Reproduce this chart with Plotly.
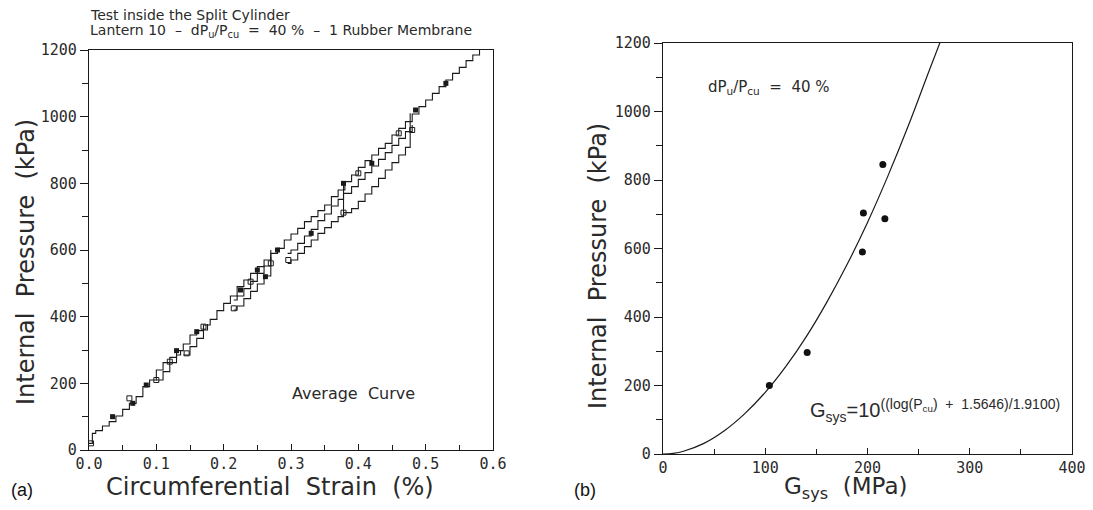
import plotly.graph_objects as go

# page has an 8px body margin; the figure is sized to fit the 1093x510 window
OFF = 8
W, H = 1093 - 2 * OFF, 510 - 2 * OFF

# ---------------- Data: panel (a) ----------------
main_strain = [0.000, 0.005, 0.010, 0.020, 0.030, 0.040, 0.050, 0.060, 0.070, 0.080, 0.090,
               0.100, 0.110, 0.120, 0.130, 0.140, 0.150, 0.160, 0.170, 0.180, 0.190,
               0.200, 0.210, 0.220, 0.230, 0.240, 0.250, 0.260, 0.270, 0.280, 0.290,
               0.300, 0.310, 0.320, 0.330, 0.340, 0.350, 0.360, 0.370, 0.380, 0.390,
               0.400, 0.410, 0.420, 0.430, 0.440, 0.450, 0.460, 0.470, 0.480, 0.490,
               0.500, 0.510, 0.520, 0.530, 0.540, 0.550, 0.560, 0.570, 0.580]
main_p = [20, 50, 58, 72, 85, 102, 122, 140, 160, 190, 210,
          240, 262, 278, 298, 318, 345, 358, 375, 392, 418,
          440, 462, 490, 510, 530, 550, 570, 590, 605, 630,
          648, 665, 685, 700, 718, 735, 760, 780, 805, 825,
          848, 868, 885, 905, 920, 945, 965, 985, 1008, 1030,
          1050, 1070, 1090, 1110, 1130, 1148, 1168, 1185, 1200]

branch_a_strain = [0.100, 0.110, 0.120, 0.130, 0.136]
branch_a_p = [210, 235, 262, 285, 300]

branch_b_strain = [0.140, 0.150, 0.160, 0.170, 0.176]
branch_b_p = [285, 310, 335, 360, 378]

branch_c_mid_strain = [0.215, 0.220, 0.230, 0.240, 0.250, 0.260, 0.270]
branch_c_mid_p = [450, 462, 484, 506, 530, 552, 578]

branch_c_low_strain = [0.215, 0.220, 0.230, 0.240, 0.250, 0.260, 0.270, 0.270]
branch_c_low_p = [420, 432, 454, 476, 498, 522, 550, 600]

branch_d_mid_strain = [0.295, 0.300, 0.310, 0.320, 0.330, 0.340, 0.350, 0.360, 0.370, 0.378,
                       0.390, 0.400, 0.410, 0.420, 0.430, 0.440, 0.450, 0.460, 0.470, 0.480]
branch_d_mid_p = [590, 600, 620, 642, 662, 688, 708, 732, 752, 770,
                  790, 812, 832, 852, 872, 892, 914, 935, 955, 975]

branch_d_low_strain = [0.295, 0.300, 0.310, 0.320, 0.330, 0.340, 0.350, 0.360, 0.370, 0.378,
                       0.390, 0.400, 0.410, 0.420, 0.430, 0.440, 0.450, 0.460, 0.470, 0.477, 0.477]
branch_d_low_p = [560, 570, 590, 610, 630, 650, 667, 685, 700, 712,
                  724, 746, 768, 790, 815, 840, 862, 885, 908, 928, 1010]

jump_strain = [0.378, 0.378]
jump_p = [700, 805]

filled_sq_strain = [0.035, 0.065, 0.085, 0.130, 0.160, 0.225, 0.250, 0.262, 0.280, 0.330, 0.378, 0.420, 0.485, 0.530]
filled_sq_p = [100, 140, 195, 298, 355, 480, 540, 520, 600, 650, 800, 860, 1020, 1100]
open_sq_strain = [0.003, 0.060, 0.100, 0.120, 0.145, 0.170, 0.215, 0.240, 0.270, 0.296, 0.378, 0.400, 0.460, 0.480]
open_sq_p = [20, 155, 210, 265, 290, 370, 425, 505, 560, 570, 712, 830, 950, 960]

# ---------------- Data: panel (b) ----------------
fit_g = [0, 10, 20, 40, 60, 80, 100, 120, 140, 160, 180, 200, 220, 240, 260, 272]
fit_p = [0, 2, 8, 31, 68, 118, 180, 255, 342, 442, 553, 676, 812, 959, 1117, 1210]

meas_g = [104, 141, 195, 196, 215, 217]
meas_p = [200, 296, 590, 704, 845, 687]

# ---------------- Layout helpers (window pixel -> paper) ----------------
def px(x):
    return (x - OFF) / W

def py(y):
    return 1 - (y - OFF) / H

LINE = "#1a1a1a"
TXT = "#2a2a2a"
TICKFONT = dict(family="DejaVu Sans Mono", size=15, color=TXT)

fig = go.Figure()

def step_trace(xs, ys):
    return go.Scatter(x=xs, y=ys, mode="lines", line=dict(color=LINE, width=1.1, shape="hv"),
                      xaxis="x", yaxis="y", hoverinfo="skip", showlegend=False)

for xs, ys in [(main_strain, main_p), (branch_a_strain, branch_a_p), (branch_b_strain, branch_b_p),
               (branch_c_mid_strain, branch_c_mid_p), (branch_c_low_strain, branch_c_low_p),
               (branch_d_mid_strain, branch_d_mid_p), (branch_d_low_strain, branch_d_low_p)]:
    fig.add_trace(step_trace(xs, ys))

fig.add_trace(go.Scatter(x=jump_strain, y=jump_p, mode="lines", line=dict(color=LINE, width=1.1),
                         xaxis="x", yaxis="y", showlegend=False))
fig.add_trace(go.Scatter(x=filled_sq_strain, y=filled_sq_p, mode="markers",
                         marker=dict(symbol="square", size=5, color=LINE),
                         xaxis="x", yaxis="y", showlegend=False))
fig.add_trace(go.Scatter(x=open_sq_strain, y=open_sq_p, mode="markers",
                         marker=dict(symbol="square-open", size=5, color=LINE, line=dict(width=1)),
                         xaxis="x", yaxis="y", showlegend=False))

fig.add_trace(go.Scatter(x=fit_g, y=fit_p, mode="lines", line=dict(color=LINE, width=1.2, shape="spline"),
                         xaxis="x2", yaxis="y2", showlegend=False))
fig.add_trace(go.Scatter(x=meas_g, y=meas_p, mode="markers", marker=dict(size=7, color="#111"),
                         xaxis="x2", yaxis="y2", showlegend=False))

axis_common = dict(showline=True, linecolor=LINE, linewidth=1.2, mirror=True, showgrid=False,
                   zeroline=False, tickfont=TICKFONT, tickcolor=LINE, tickwidth=1, automargin=False,
                   ticklabeloverflow="allow")

fig.update_layout(
    width=W, height=H, margin=dict(l=0, r=0, t=0, b=0, autoexpand=False),
    paper_bgcolor="white", plot_bgcolor="white", showlegend=False,
    xaxis=dict(domain=[px(89), px(493)], range=[0, 0.6], dtick=0.1, tick0=0, tickformat=".1f",
               ticks="inside", ticklen=6, anchor="y",
               minor=dict(dtick=0.05, ticks="inside", ticklen=5, tickcolor=LINE), **axis_common),
    yaxis=dict(domain=[py(450), py(50)], range=[0, 1200], dtick=200, tick0=0,
               ticks="outside", ticklen=8, anchor="x",
               minor=dict(dtick=100, ticks="outside", ticklen=6, tickcolor=LINE), **axis_common),
    xaxis2=dict(domain=[px(663), px(1072)], range=[0, 400], dtick=100, tick0=0,
                ticks="inside", ticklen=6, anchor="y2",
                minor=dict(dtick=50, ticks="inside", ticklen=5, tickcolor=LINE), **axis_common),
    yaxis2=dict(domain=[py(454), py(43)], range=[0, 1200], dtick=200, tick0=0,
                ticks="outside", ticklen=8, anchor="x2",
                minor=dict(dtick=100, ticks="outside", ticklen=6, tickcolor=LINE), **axis_common),
)

def ann(text, x, y, size, family="DejaVu Sans", xanchor="center", yanchor="middle", angle=0, color=TXT):
    fig.add_annotation(text=text, x=px(x), y=py(y), xref="paper", yref="paper", showarrow=False,
                       xanchor=xanchor, yanchor=yanchor, textangle=angle,
                       font=dict(family=family, size=size, color=color))

# Panel (a) texts
ann("Test inside the Split Cylinder", 88, 15, 14, xanchor="left")
ann("Lantern 10  \u2013  dP<sub>u</sub>/P<sub>cu</sub>  =  40 %  \u2013  1 Rubber Membrane", 88, 31, 14, xanchor="left")
ann("Internal  Pressure  (kPa)", 26, 262, 24, angle=-90)
ann("Circumferential  Strain  (%)", 270, 487, 24)
ann("Average  Curve", 353, 393, 16)
ann("(a)", 9, 490, 18, family="Liberation Sans", xanchor="left", color="#111")

# Panel (b) texts
ann("Internal  Pressure  (kPa)", 598, 266, 24, angle=-90)
ann("G<sub>sys</sub>  (MPa)", 845, 488, 23)
ann("dP<sub>u</sub>/P<sub>cu</sub>  =  40 %", 706, 87, 15, xanchor="left")
ann("G<sub>sys</sub>=10<sup>((log(P<sub>cu</sub>)  +  1.5646)/1.9100)</sup>", 808, 410, 20,
    family="Liberation Sans", xanchor="left")
ann("(b)", 572, 490, 18, family="Liberation Sans", xanchor="left", color="#111")

fig.write_html("out.html")
